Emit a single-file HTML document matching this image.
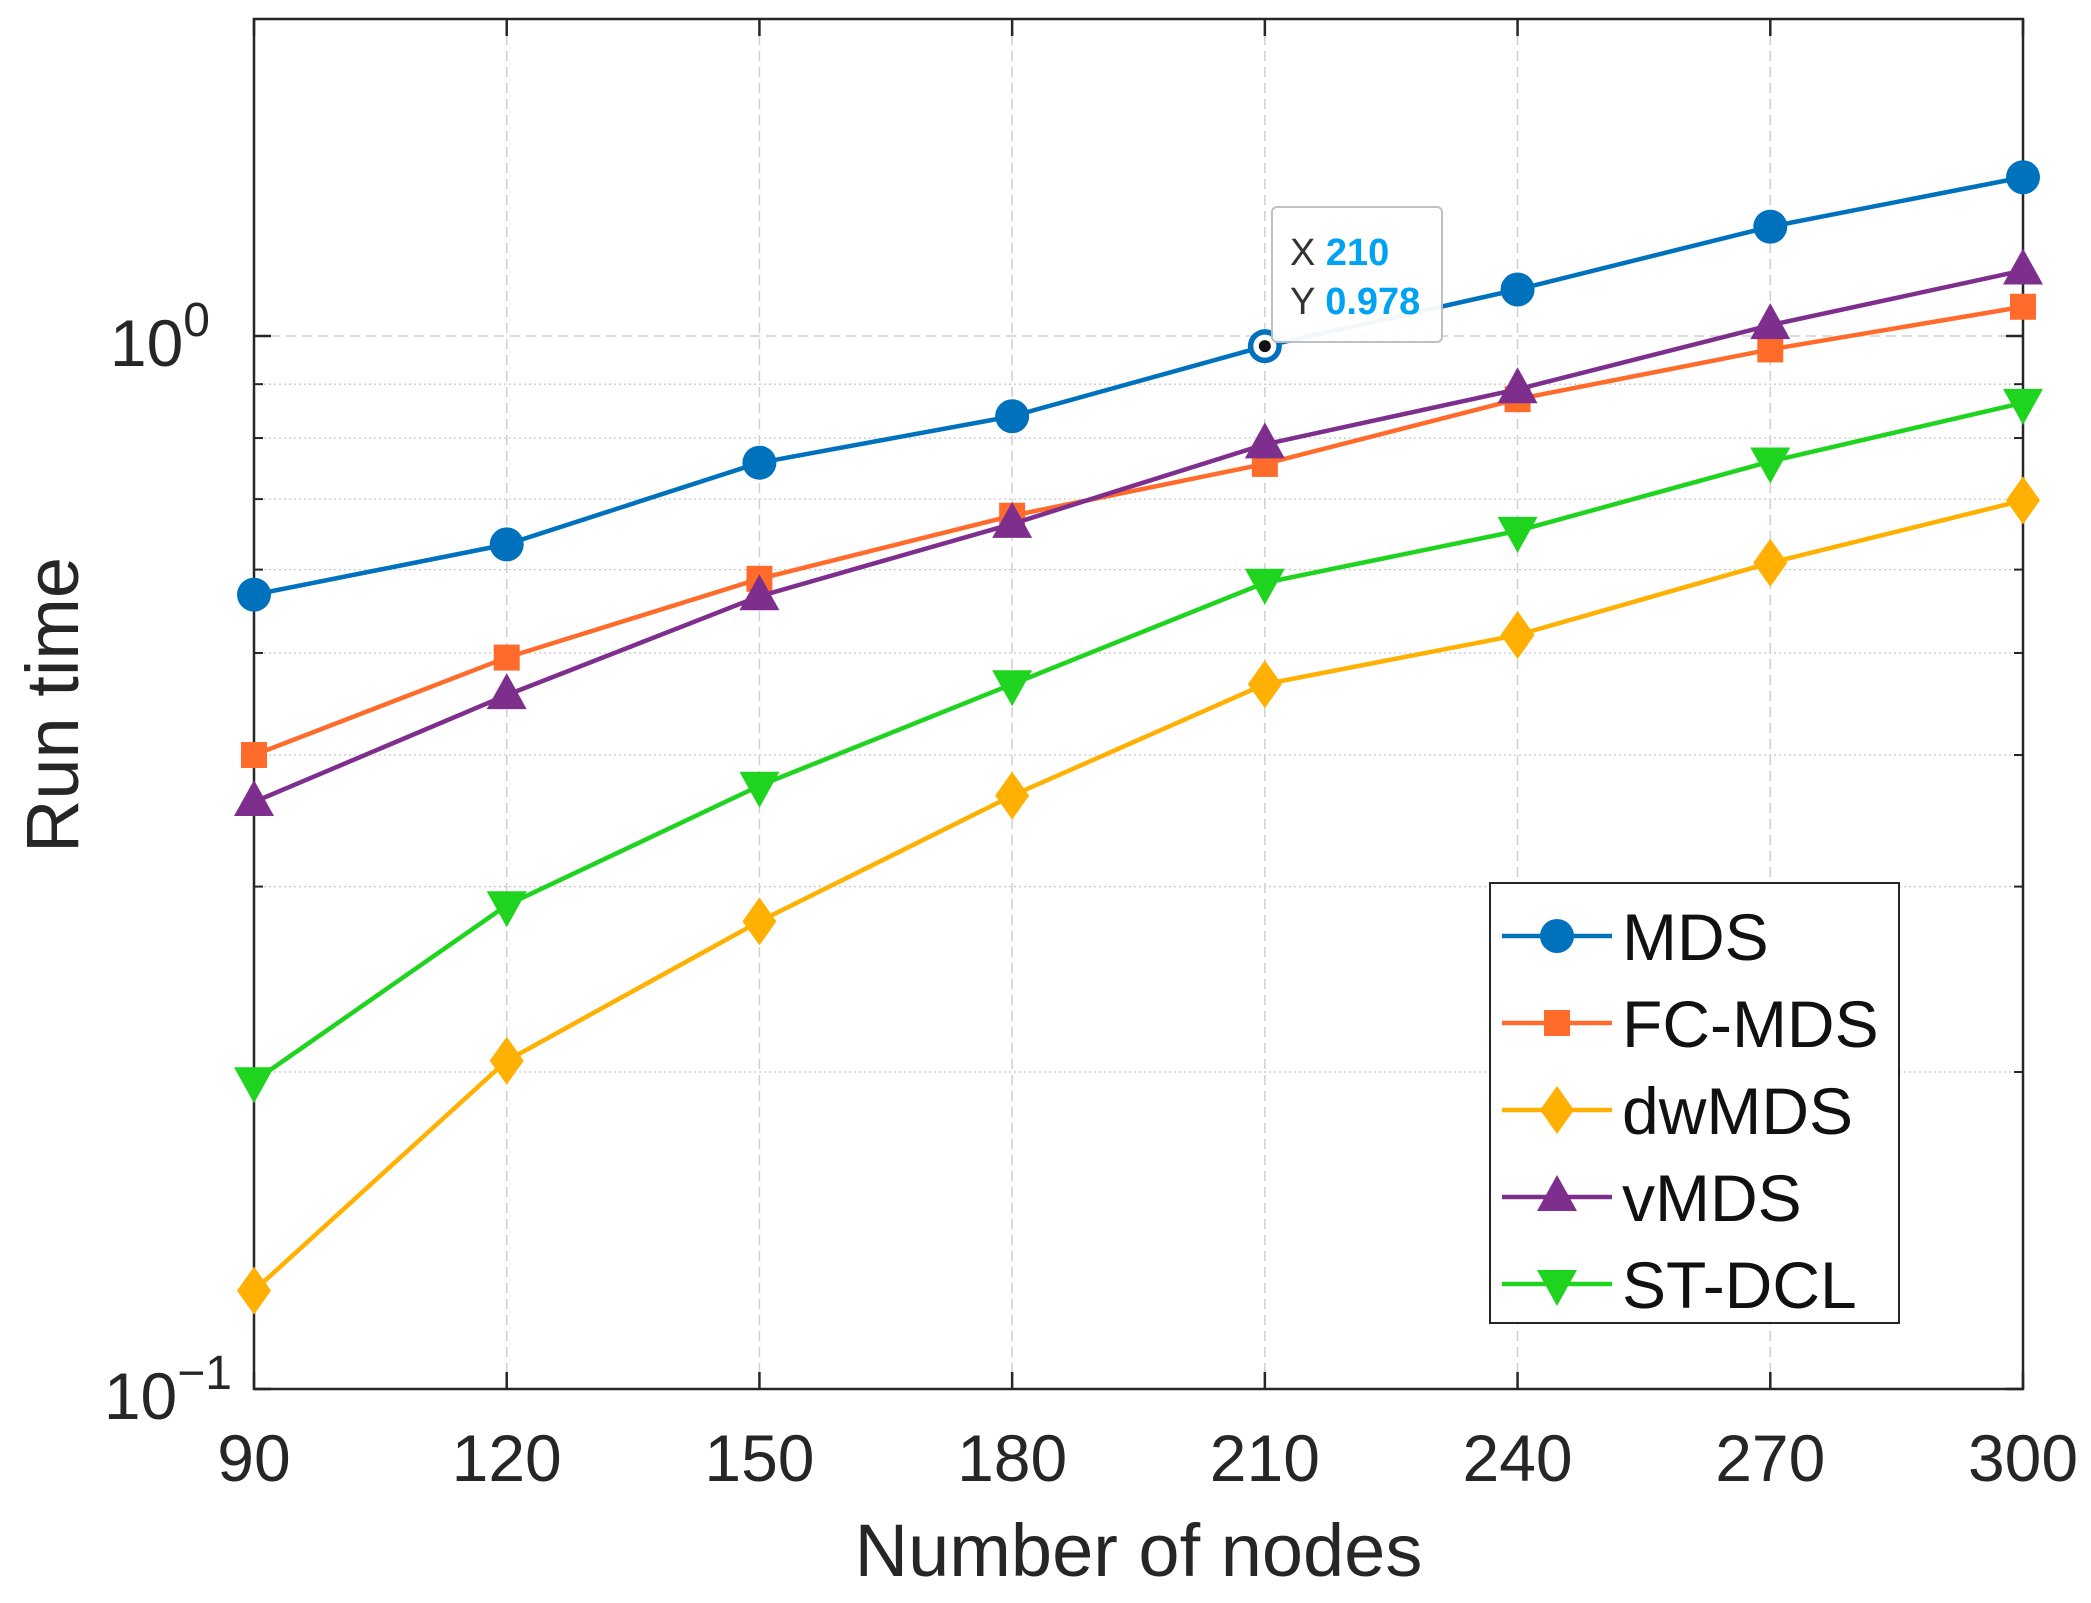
<!DOCTYPE html>
<html><head><meta charset="utf-8"><style>
html,body{margin:0;padding:0;background:#fff;}
svg{display:block;font-family:"Liberation Sans",Arial,sans-serif;}
</style></head><body>
<svg id="chart" width="2091" height="1603" viewBox="0 0 2091 1603"></svg>
<script>
const categories=[90,120,150,180,210,240,270,300];
const seriesNames=["MDS","FC-MDS","dwMDS","vMDS","ST-DCL"];
const mdsValues=[0.568,0.634,0.758,0.839,0.978,1.107,1.27,1.415];
const fcmdsValues=[0.40,0.495,0.588,0.675,0.756,0.871,0.971,1.066];
const dwmdsValues=[0.124,0.205,0.278,0.366,0.467,0.520,0.609,0.698];
const vmdsValues=[0.361,0.456,0.566,0.663,0.789,0.890,1.024,1.154];
const stdclValues=[0.196,0.288,0.374,0.467,0.583,0.653,0.760,0.864];
const xTickLabels=["90","120","150","180","210","240","270","300"];
const minorTicks=[0.2,0.3,0.4,0.5,0.6,0.7,0.8,0.9,2];

const NS="http://www.w3.org/2000/svg";
const svg=document.getElementById('chart');
const L=254,R=2023,T=19,B=1389;
const yMin=0.1,yMax=2;
function xs(v){return L+(v-90)/(300-90)*(R-L);}
function ys(v){return B-(Math.log10(v)-Math.log10(yMin))/(Math.log10(yMax)-Math.log10(yMin))*(B-T);}
function mk(tag,attrs,parent){const e=document.createElementNS(NS,tag);for(const k in attrs)e.setAttribute(k,attrs[k]);(parent||svg).appendChild(e);return e;}

const grid=mk('g',{});


minorTicks.forEach(v=>{if(v<yMax){const l=mk('line',{x1:L,x2:R,y1:ys(v),y2:ys(v),stroke:'#c8c8c8','stroke-width':1.3,'stroke-dasharray':'2 3'},grid);

}});
const g1=mk('line',{x1:L,x2:R,y1:ys(1),y2:ys(1),stroke:'#d0d0d0','stroke-width':1.5,'stroke-dasharray':'10 6'},grid);


categories.forEach(c=>{const l=mk('line',{x1:xs(c),x2:xs(c),y1:T,y2:B,stroke:'#d0d0d0','stroke-width':1.5,'stroke-dasharray':'10 6'},grid);

});

const box=mk('rect',{x:L,y:T,width:R-L,height:B-T,fill:'none',stroke:'#262626','stroke-width':2.5});


categories.forEach((c,i)=>{
 mk('line',{x1:xs(c),x2:xs(c),y1:B,y2:B-17,stroke:'#262626','stroke-width':2.5});
 mk('line',{x1:xs(c),x2:xs(c),y1:T,y2:T+17,stroke:'#262626','stroke-width':2.5});
 const t=mk('text',{x:xs(c),y:1481,'font-size':66,'text-anchor':'middle',fill:'#262626'});
 t.textContent=xTickLabels[i];
 
 
});
[0.1,1].forEach(v=>{mk('line',{x1:L,x2:L+17,y1:ys(v),y2:ys(v),stroke:'#262626','stroke-width':2.5});mk('line',{x1:R,x2:R-17,y1:ys(v),y2:ys(v),stroke:'#262626','stroke-width':2.5});});
minorTicks.forEach(v=>{if(v<yMax){mk('line',{x1:L,x2:L+9,y1:ys(v),y2:ys(v),stroke:'#262626','stroke-width':2});mk('line',{x1:R,x2:R-9,y1:ys(v),y2:ys(v),stroke:'#262626','stroke-width':2});}});
function ylab(y,exp,x){const t=mk('text',{x:x,y:y,'font-size':66,fill:'#262626','text-anchor':'end'});
 t.innerHTML='10<tspan dy="-30" font-size="48">'+exp+'</tspan>';
 
 }
ylab(ys(1)+30,'0',210);
ylab(ys(0.1)+30,'\u22121',232);
const xt=mk('text',{x:(L+R)/2,y:1576,'font-size':74,'text-anchor':'middle',fill:'#262626'});xt.textContent='Number of nodes';


const yt=mk('text',{x:0,y:0,'font-size':74,'text-anchor':'middle',fill:'#262626',transform:'translate(78,705) rotate(-90)'});yt.textContent='Run time';



const colors=['#0072BD','#FF6B2B','#FFB000','#7E2F8E','#1FD41F'];
const markers=['circle','square','diamond','triUp','triDown'];
const allValues=[mdsValues,fcmdsValues,dwmdsValues,vmdsValues,stdclValues];
function marker(type,x,y,c,parent){
 if(type==='circle')return mk('circle',{cx:x,cy:y,r:17,fill:c},parent);
 if(type==='square')return mk('rect',{x:x-13,y:y-13,width:26,height:26,fill:c},parent);
 if(type==='diamond')return mk('polygon',{points:`${x},${y-24} ${x+17},${y} ${x},${y+24} ${x-17},${y}`,fill:c},parent);
 if(type==='triUp')return mk('polygon',{points:`${x},${y-22} ${x+20},${y+14} ${x-20},${y+14}`,fill:c},parent);
 return mk('polygon',{points:`${x},${y+22} ${x+20},${y-14} ${x-20},${y-14}`,fill:c},parent);
}
allValues.forEach((vals,s)=>{
 const g=mk('g',{});
 
 
 const pl=mk('polyline',{points:vals.map((v,i)=>xs(categories[i])+','+ys(v)).join(' '),fill:'none',stroke:colors[s],'stroke-width':4.5},g);
 
 
 vals.forEach((v,i)=>{const m=marker(markers[s],xs(categories[i]),ys(v),colors[s],g);
 
 });
});

const dx=xs(210),dy=ys(mdsValues[4]);
mk('circle',{cx:dx,cy:dy,r:14,fill:'#fff',stroke:'#0072BD','stroke-width':5});
mk('circle',{cx:dx,cy:dy,r:6,fill:'#111'});
const tip=mk('g',{});


mk('rect',{x:1272,y:207,width:170,height:135,rx:5,fill:'#fff',stroke:'#bdbdbd','stroke-width':2,opacity:0.95},tip);
const t1=mk('text',{x:1290,y:265,'font-size':38,fill:'#333'},tip);t1.innerHTML='X <tspan fill="#00A2F2" font-weight="bold">210</tspan>';
const t2=mk('text',{x:1290,y:314,'font-size':38,fill:'#333'},tip);t2.innerHTML='Y <tspan fill="#00A2F2" font-weight="bold">0.978</tspan>';

const lg=mk('g',{});


mk('rect',{x:1490,y:883,width:409,height:440,fill:'#fff',stroke:'#262626','stroke-width':2},lg);
seriesNames.forEach((n,s)=>{
 const y=936+s*87;
 const e=mk('g',{},lg);
 
 
 mk('line',{x1:1502,x2:1612,y1:y,y2:y,stroke:colors[s],'stroke-width':4.5},e);
 marker(markers[s],1557,y,colors[s],e);
 const t=mk('text',{x:1622,y:y+24,'font-size':66,fill:'#111',textLength:n.length*40>260?270:null},e);t.textContent=n;
 t.removeAttribute('textLength');
});
</script>
</body></html>
